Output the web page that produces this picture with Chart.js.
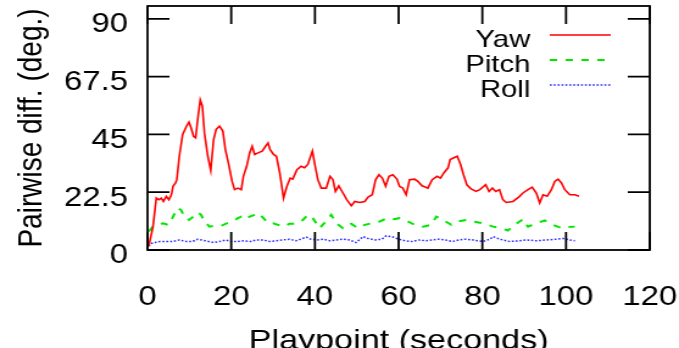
<!DOCTYPE html>
<html>
<head>
<meta charset="utf-8">
<script src="https://cdn.jsdelivr.net/npm/chart.js@4.4.0/dist/chart.umd.min.js"></script>
<style>
  html, body { margin: 0; padding: 0; background: #fff; }
  /* the source figure is stretched sideways, so draw narrow and widen */
  #myChart { display: block; width: 679px !important; height: 348px !important; }
</style>
</head>
<body>
<canvas id="myChart" width="557" height="348" style="width:679px;height:348px"></canvas>
<script>
const yawTime = [0.3, 1.3, 2.1, 2.7, 3.3, 3.8, 4.5, 5.1, 5.7, 6.1, 6.7, 7.0, 7.6, 8.4, 9.3, 9.9, 10.4, 11.0, 11.5, 12.0,
    12.6, 13.1, 13.6, 14.4, 15.1, 15.8, 16.4, 17.2, 18.0, 18.6, 19.4, 20.2, 20.8, 21.6, 22.4, 22.9, 23.7, 24.4, 25.0, 25.6,
    26.4, 27.4, 28.2, 28.8, 29.3, 30.1, 30.8, 31.6, 32.5, 33.3, 34.1, 34.7, 35.7, 36.7, 37.5, 38.3, 39.4, 39.9, 40.7, 41.5,
    42.7, 43.6, 44.3, 44.9, 45.7, 46.7, 47.6, 48.7, 49.5, 50.7, 51.9, 52.7, 53.7, 54.5, 55.3, 56.1, 56.9, 57.7, 58.6, 59.6,
    60.2, 61.0, 61.8, 62.6, 63.8, 64.6, 65.6, 67.0, 68.0, 69.2, 70.0, 70.8, 71.8, 72.3, 73.2, 74.0, 74.8, 75.5, 76.3, 77.3,
    78.5, 79.4, 80.8, 81.6, 82.4, 83.2, 84.1, 84.9, 85.7, 87.3, 88.7, 89.7, 90.9, 91.9, 92.9, 93.7, 94.5, 95.5, 96.5, 97.3,
    98.1, 98.9, 99.7, 100.9, 102.1, 103.1];
const yawDiff = [1.5, 9, 20.2, 19.6, 20.2, 18.9, 20.9, 19.6, 21.5, 24.8, 26.1, 27.4, 36.5, 45, 48.2, 49.8, 47.6, 44.3, 43.7, 50.9,
    58.4, 56, 45.6, 36.5, 31, 43, 47, 48.2, 46.3, 39.1, 33.3, 26.7, 23.5, 24.1, 23.5, 28.7, 32.6, 37.8, 40.4, 37.2,
    37.8, 38.5, 40.4, 41.7, 39.1, 37.2, 36.5, 30, 20.2, 24.8, 28, 27.6, 31.3, 32.6, 32, 33.3, 38.5, 33.9, 27.4, 24.1,
    24.1, 28.7, 27.4, 22.8, 25, 22.2, 19.6, 17.2, 18.9, 18.5, 18.9, 20.6, 21.5, 27.4, 29.3, 28, 24.8, 28.7, 29.3, 27.6,
    24.8, 24.1, 21.5, 27.4, 27.6, 26.7, 25, 24.1, 27.4, 28.7, 28, 30, 32, 35.2, 35.9, 36.5, 33.3, 29.3, 25.4, 23.8,
    22.8, 23.5, 25.4, 22.8, 24.1, 22.8, 23.5, 19.6, 18.5, 18.9, 20.6, 22.2, 23.5, 24.5, 22.2, 18.3, 21.5, 20.9, 23.5, 26.7,
    27.6, 26.1, 23.5, 21.5, 21.5, 20.9];

const pitchTime = [0.3, 1.3, 2.5, 3.7, 4.9, 5.7, 6.5, 7.2, 8.0, 8.8, 9.9, 11.0, 12.0, 12.8, 13.6, 14.8, 16.0, 17.6, 18.9, 20.4,
    21.6, 22.4, 23.4, 24.4, 25.6, 26.6, 27.7, 28.8, 30.0, 31.2, 32.5, 33.9, 35.5, 37.1, 38.3, 39.5, 41.1, 42.6, 43.9, 45.1,
    46.7, 48.7, 50.3, 51.9, 53.5, 55.5, 57.2, 58.8, 60.2, 61.8, 63.8, 65.8, 67.8, 69.0, 70.6, 72.6, 74.2, 76.2, 77.8, 80.2,
    82.6, 84.5, 86.1, 88.1, 89.7, 90.9, 92.9, 94.9, 96.9, 98.9, 100.5, 102.1];
const pitchDiff = [7.2, 9.1, 9.8, 10.4, 9.8, 11.7, 14.3, 16.3, 15.6, 13, 11.7, 13, 14.6, 13.7, 11.1, 9.1, 9.4, 9.4, 10.4, 11.1,
    12.4, 13, 12, 13, 13.7, 14.3, 12.4, 10.4, 10.4, 9.8, 9.1, 10.2, 10.2, 11.7, 13.7, 12.4, 8.5, 11.1, 13.7, 10.4,
    8.5, 10.2, 8.5, 9.8, 10.4, 11.1, 12.4, 12, 12.4, 11.5, 9.8, 9.1, 9.8, 13, 11.7, 9.8, 11.1, 11.7, 11.1, 10.4,
    9.1, 8.5, 7.6, 10.2, 12, 9.1, 10.4, 11.5, 9.8, 8.5, 8.9, 9.1];

const rollTime = [0.3, 0.8, 1.7, 3.0, 4.5, 6.0, 7.6, 9.3, 10.7, 12.0, 13.8, 15.8, 17.2, 18.6, 20.0, 21.6, 23.0, 24.6, 26.0, 27.6,
    29.3, 30.8, 32.3, 33.9, 35.5, 37.9, 39.0, 40.5, 42.0, 43.6, 45.0, 46.7, 48.3, 49.8, 51.5, 52.7, 54.4, 56.0, 57.0, 58.4,
    60.0, 61.6, 63.2, 64.8, 66.4, 68.0, 69.6, 71.2, 72.8, 74.4, 76.0, 77.8, 80.2, 81.8, 82.6, 84.2, 86.5, 88.9, 90.5, 92.9,
    95.3, 97.7, 99.3, 100.9, 102.1];
const rollDiff = [1.5, 2.5, 2.9, 3.3, 3.3, 3.3, 3.9, 3.3, 3.3, 4.2, 3.6, 2.9, 3.3, 3.9, 3.3, 3.3, 3.6, 3.3, 3.9, 3.9,
    3.3, 3.6, 3.9, 4.2, 3.6, 5.0, 4.2, 3.9, 4.2, 3.6, 3.9, 4.2, 3.9, 2.9, 5.2, 4.5, 3.9, 4.2, 5.5, 5.2,
    4.2, 3.6, 3.3, 3.9, 3.6, 3.9, 4.2, 3.9, 3.3, 3.9, 4.2, 3.9, 3.3, 4.2, 5.2, 4.2, 3.3, 3.6, 3.9, 3.6,
    3.9, 4.2, 4.5, 3.9, 3.6];

const xTicks = [0, 20, 40, 60, 80, 100, 120];
const yTicks = [0, 22.5, 45, 67.5, 90];

const fontFamily = "'Liberation Sans', Arial, Helvetica, sans-serif";

function points(xs, ys) {
    return xs.map((x, i) => ({x: x, y: ys[i]}));
}

// gnuplot style box with inward ticks and a legend with the sample after the text
const frame = {
    id: 'frame',
    afterDatasetsDraw(chart) {
        const ctx = chart.ctx;
        const a = chart.chartArea;
        const xs = chart.scales.x;
        const ys = chart.scales.y;
        ctx.save();
        ctx.strokeStyle = '#000';
        ctx.lineWidth = 1.8;
        ctx.strokeRect(a.left, a.top, a.right - a.left, a.bottom - a.top);
        ctx.beginPath();
        xTicks.forEach(v => {
            const px = xs.getPixelForValue(v);
            ctx.moveTo(px, a.bottom); ctx.lineTo(px, a.bottom - 18);
            ctx.moveTo(px, a.top); ctx.lineTo(px, a.top + 18);
        });
        yTicks.forEach(v => {
            const py = ys.getPixelForValue(v);
            ctx.moveTo(a.left, py); ctx.lineTo(a.left + 18, py);
            ctx.moveTo(a.right, py); ctx.lineTo(a.right - 18, py);
        });
        ctx.stroke();

        ctx.font = '24px ' + fontFamily;
        ctx.fillStyle = '#000';
        ctx.textAlign = 'right';
        ctx.textBaseline = 'alphabetic';
        chart.data.datasets.forEach((ds, i) => {
            const ly = 35 + i * 25;
            ctx.fillText(ds.label, 435, ly + 12);
            ctx.beginPath();
            ctx.strokeStyle = ds.borderColor;
            ctx.lineWidth = ds.borderWidth;
            ctx.setLineDash(ds.borderDash || []);
            ctx.moveTo(451, ly);
            ctx.lineTo(501, ly);
            ctx.stroke();
        });
        ctx.restore();
    }
};

const data = {
    datasets: [
        {
            label: 'Yaw',
            data: points(yawTime, yawDiff),
            borderColor: 'rgb(255, 0, 0)',
            borderWidth: 1.6,
        },
        {
            label: 'Pitch',
            data: points(pitchTime, pitchDiff),
            borderColor: 'rgb(0, 230, 0)',
            borderWidth: 2,
            borderDash: [6, 7],
        },
        {
            label: 'Roll',
            data: points(rollTime, rollDiff),
            borderColor: 'rgb(40, 40, 255)',
            borderWidth: 1.5,
            borderDash: [1.6, 1.6],
        }
    ]
};

const config = {
    type: 'line',
    data: data,
    options: {
        responsive: false,
        animation: false,
        devicePixelRatio: 1,
        layout: {padding: {top: 6, right: 24, bottom: 0, left: 0}},
        elements: {point: {radius: 0}, line: {tension: 0}},
        plugins: {legend: {display: false}, tooltip: {enabled: false}},
        scales: {
            x: {
                type: 'linear',
                min: 0,
                max: 120,
                afterBuildTicks: s => { s.ticks = xTicks.map(v => ({value: v})); },
                afterFit: s => { s.height = 98; s.paddingLeft = 0; s.paddingRight = 0; },
                grid: {display: false, drawTicks: false},
                border: {display: false},
                ticks: {
                    padding: 31,
                    color: '#000',
                    font: {family: fontFamily, size: 27},
                    maxRotation: 0,
                    autoSkip: false,
                    callback: v => String(v)
                },
                title: {
                    display: true,
                    text: 'Playpoint (seconds)',
                    color: '#000',
                    font: {family: fontFamily, size: 28, lineHeight: 0.5},
                    padding: 0
                }
            },
            y: {
                type: 'linear',
                min: 0,
                max: 95,
                afterBuildTicks: s => { s.ticks = yTicks.map(v => ({value: v})); },
                afterFit: s => { s.width = 121; s.paddingTop = 0; s.paddingBottom = 0; },
                grid: {display: false, drawTicks: false},
                border: {display: false},
                ticks: {
                    padding: 16,
                    labelOffset: 6,
                    color: '#000',
                    font: {family: fontFamily, size: 27},
                    autoSkip: false,
                    callback: v => String(v)
                },
                title: {
                    display: true,
                    text: 'Pairwise diff. (deg.)',
                    color: '#000',
                    font: {family: fontFamily, size: 28, lineHeight: 1.2},
                    padding: {top: 9, bottom: 0}
                }
            }
        }
    },
    plugins: [frame]
};

let myChart = new Chart(
    document.getElementById('myChart'),
    config
);
</script>
</body>
</html>
